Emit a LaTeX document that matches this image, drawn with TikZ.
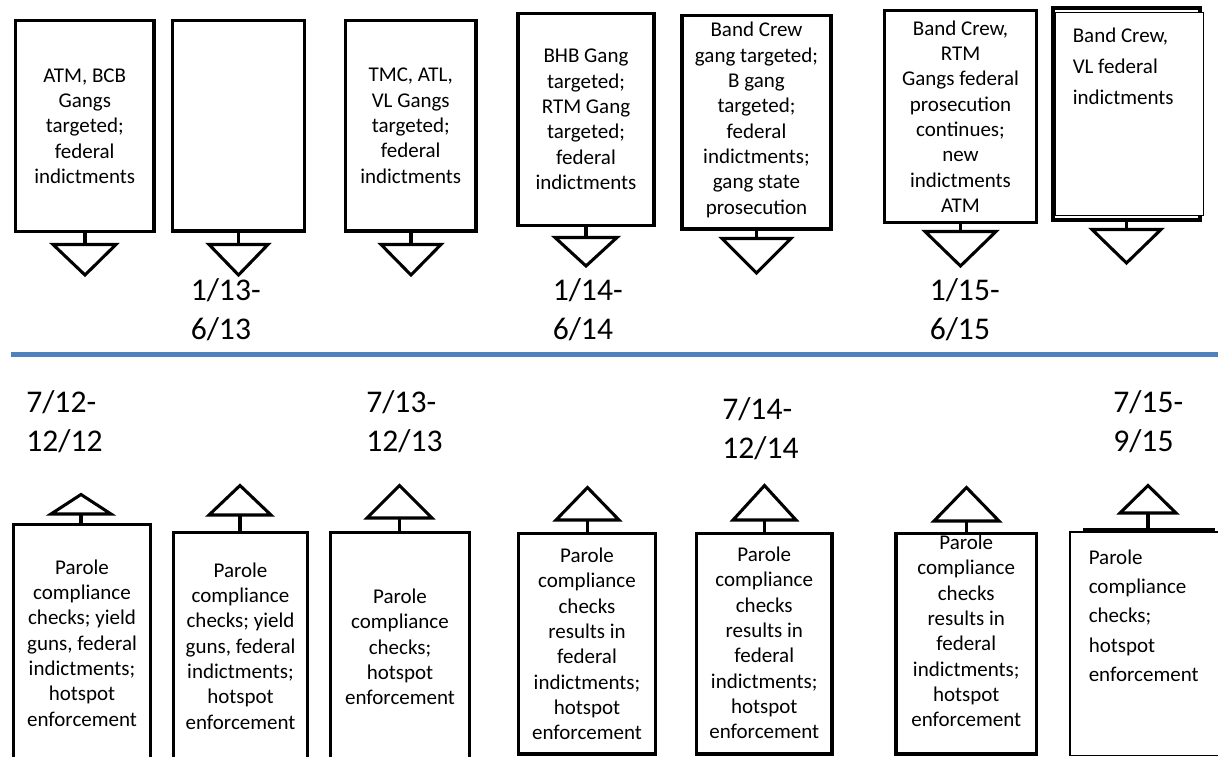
\documentclass[tikz,border=0pt]{standalone}
\usepackage{fontspec}
\setmainfont{Carlito}
\usetikzlibrary{fit}
\definecolor{tlblue}{RGB}{79,129,189}
\tikzset{
  x=0.75pt, y=-0.75pt,
  ln/.style={line width=2.3pt, line join=miter},
  box/.style={ln, draw, fill=white, inner sep=0pt},
  thinbox/.style={draw, line width=1pt, fill=white, inner sep=0pt},
  tri/.style={ln, draw},
  boxtxt/.style={inner sep=0pt, align=center, font=\fontsize{15.75}{19}\selectfont},
  lefttxt/.style={inner sep=0pt, align=left, anchor=north west},
  datelbl/.style={inner sep=0pt, align=left, anchor=north west,
    font=\fontsize{23.7}{29}\selectfont},
}
\begin{document}
\begin{tikzpicture}
\useasboundingbox (0,0) rectangle (1218,757);
\fill[white] (0,0) rectangle (1218,757);
\clip (0,0) rectangle (1218,757);

% ---------- top row boxes ----------
\node[box, fit={(15.5,20.5)(154,231.5)}] (t1) {};
\node[boxtxt] (t1txt) at (t1.center) {ATM, BCB\\Gangs\\targeted;\\federal\\indictments};
\node[box, fit={(172.5,20.5)(304.5,231)}] (t2) {};
\node[box, fit={(345.5,20.5)(476,231)}] (t3) {};
\node[boxtxt] (t3txt) at (t3.center) {TMC, ATL,\\VL Gangs\\targeted;\\federal\\indictments};
\node[box, fit={(518,13.5)(654,225.5)}] (t4) {};
\node[boxtxt] (t4txt) at (t4.center) {BHB Gang\\targeted;\\RTM Gang\\targeted;\\federal\\indictments};
\node[box, fit={(682,15.5)(831,229)}] (t5) {};
\node[boxtxt] (t5txt) at (756.5,120) {Band Crew\\gang targeted;\\B gang\\targeted;\\federal\\indictments;\\gang state\\prosecution};
\node[box, fit={(884.5,10.5)(1036.5,222.5)}] (t6) {};
\node[boxtxt] (t6txt) at (t6.center) {Band Crew,\\RTM\\Gangs federal\\prosecution\\continues;\\new\\indictments\\ATM};
\node[box, fit={(1053,8)(1200,220)}] (t7back) {};
\node[thinbox, fit={(1055.5,12.5)(1203.5,215.5)}] (t7) {};
\node[lefttxt, font=\fontsize{15.75}{23}\selectfont] (t7txt) at (1072.5,21.2) {\strut Band Crew,\\VL federal\\indictments};

% ---------- top triangles ----------
\coordinate (tt1) at (85,244.5);
\coordinate (tt2) at (238.5,244.5);
\coordinate (tt3) at (411,244.5);
\coordinate (tt4) at (586,237.5);
\coordinate (tt5) at (756.5,238.5);
\coordinate (tt6) at (960.5,231.5);
\coordinate (tt7) at (1126.5,229.5);
\draw[tri] (53,244.5) -- (116,244.5) -- (85,275) -- cycle;
\draw[tri] (209,244.5) -- (268,244.5) -- (238.5,275) -- cycle;
\draw[tri] (381,244.5) -- (441,244.5) -- (411,275) -- cycle;
\draw[tri] (555,237.5) -- (617,237.5) -- (586,266) -- cycle;
\draw[tri] (722,238.5) -- (791,238.5) -- (756.5,273) -- cycle;
\draw[tri] (925,231.5) -- (996,231.5) -- (960.5,266) -- cycle;
\draw[tri] (1092,229.5) -- (1161,229.5) -- (1126.5,263) -- cycle;
\draw[ln] (tt1) -- (tt1 |- t1.south);
\draw[ln] (tt2) -- (tt2 |- t2.south);
\draw[ln] (tt3) -- (tt3 |- t3.south);
\draw[ln] (tt4) -- (tt4 |- t4.south);
\draw[ln] (tt5) -- (tt5 |- t5.south);
\draw[ln] (tt6) -- (tt6 |- t6.south);
\draw[ln] (tt7) -- (tt7 |- t7back.south);

% ---------- top date labels ----------
\node[datelbl] (d1) at (190.5,273) {\strut 1/13-\\6/13};
\node[datelbl] (d2) at (552.5,273) {\strut 1/14-\\6/14};
\node[datelbl] (d3) at (929.5,273) {\strut 1/15-\\6/15};

% ---------- timeline ----------
\coordinate (lineL) at (11,354.5);
\coordinate (lineR) at (1218,354.5);
\draw[tlblue, line width=3.75pt] (lineL) -- (lineR);

% ---------- bottom date labels ----------
\node[datelbl] (e1) at (26,385) {\strut 7/12-\\12/12};
\node[datelbl] (e2) at (366,385) {\strut 7/13-\\12/13};
\node[datelbl] (e3) at (722,392) {\strut 7/14-\\12/14};
\node[datelbl] (e4) at (1113,385) {\strut 7/15-\\9/15};

% ---------- bottom row boxes ----------
\node[box, fit={(13.5,524.5)(150.5,762)}] (b1) {};
\node[boxtxt] (b1txt) at (82,643) {Parole\\compliance\\checks; yield\\guns, federal\\indictments;\\hotspot\\enforcement};
\node[box, fit={(173.5,532.5)(307.5,760)}] (b2) {};
\node[boxtxt] (b2txt) at (240.5,646) {Parole\\compliance\\checks; yield\\guns, federal\\indictments;\\hotspot\\enforcement};
\node[box, fit={(330.5,532.5)(469.5,762)}] (b3) {};
\node[boxtxt] (b3txt) at (400,647) {Parole\\compliance\\checks;\\hotspot\\enforcement};
\node[box, fit={(518.5,533.5)(655.5,754)}] (b4) {};
\node[boxtxt] (b4txt) at (587,644) {Parole\\compliance\\checks\\results in\\federal\\indictments;\\hotspot\\enforcement};
\node[box, fit={(696.5,533.5)(832,754)}] (b5) {};
\node[boxtxt] (b5txt) at (764.25,643) {Parole\\compliance\\checks\\results in\\federal\\indictments;\\hotspot\\enforcement};
\node[box, fit={(896,533.5)(1036.5,754)}] (b6) {};
\node[boxtxt] (b6txt) at (966.25,631) {Parole\\compliance\\checks\\results in\\federal\\indictments;\\hotspot\\enforcement};
\node[box, fit={(1084.5,529.5)(1213.5,740)}] (b7back) {};
\node[thinbox, fit={(1070,532)(1230,755.5)}] (b7) {};
\node[lefttxt, font=\fontsize{15.75}{22}\selectfont] (b7txt) at (1088.5,543.5) {\strut Parole\\compliance\\checks;\\hotspot\\enforcement};

% ---------- bottom triangles ----------
\coordinate (bt1) at (81,514);
\coordinate (bt2) at (240,515);
\coordinate (bt3) at (399.5,518);
\coordinate (bt4) at (587.5,520);
\coordinate (bt5) at (764.5,520);
\coordinate (bt6) at (966.5,521);
\coordinate (bt7) at (1148,513);
\draw[tri] (51,514) -- (111,514) -- (81,494.5) -- cycle;
\draw[tri] (209,515) -- (271,515) -- (240,485.5) -- cycle;
\draw[tri] (367,518) -- (432,518) -- (399.5,485.5) -- cycle;
\draw[tri] (556,520) -- (619,520) -- (587.5,487.5) -- cycle;
\draw[tri] (733,520) -- (796,520) -- (764.5,485.5) -- cycle;
\draw[tri] (934,521) -- (999,521) -- (966.5,487.5) -- cycle;
\draw[tri] (1120,513) -- (1176,513) -- (1148,485.5) -- cycle;
\draw[ln] (bt1) -- (bt1 |- b1.north);
\draw[ln] (bt2) -- (bt2 |- b2.north);
\draw[ln] (bt3) -- (bt3 |- b3.north);
\draw[ln] (bt4) -- (bt4 |- b4.north);
\draw[ln] (bt5) -- (bt5 |- b5.north);
\draw[ln] (bt6) -- (bt6 |- b6.north);
\draw[ln] (bt7) -- (bt7 |- b7back.north);
\end{tikzpicture}
\end{document}
